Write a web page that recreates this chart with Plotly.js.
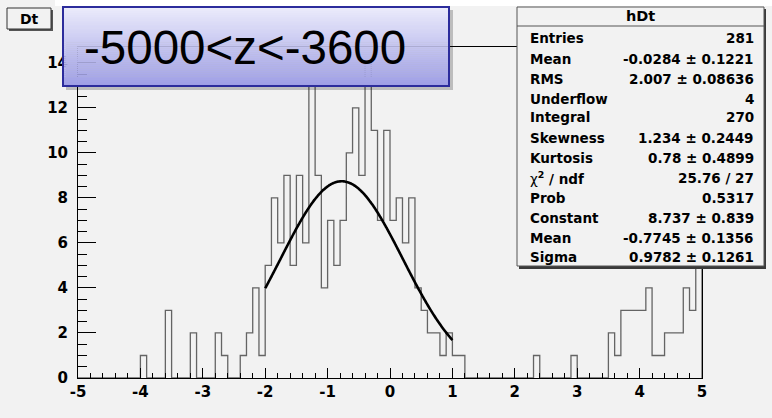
<!DOCTYPE html>
<html>
<head>
<meta charset="utf-8">
<script src="https://cdn.plot.ly/plotly-3.0.1.min.js"></script>
<style>html,body{margin:0;padding:0;background:#f2f2f2;}</style>
</head>
<body>
<div id="chart" style="width:772px;height:418px;"></div>
<script>
// hDt: Dt distribution for -5000 < z < -3600, 100 fixed-width bins on [-5, 5]
const histLow = -5;
const histHigh = 5;
const histCounts = [
  0, 0, 0, 0, 0, 0, 0, 0, 0, 0,     // -5.0 .. -4.1
  1, 0, 0, 0, 3, 0, 0, 0, 2, 0,     // -4.0 .. -3.1
  0, 0, 2, 1, 0, 0, 1, 2, 4, 1,     // -3.0 .. -2.1
  5, 8, 6, 9, 5, 9, 6, 13, 9, 4,    // -2.0 .. -1.1
  7, 5, 7, 10, 12, 9, 14, 11, 7, 11,// -1.0 .. -0.1
  7, 8, 6, 8, 4, 3, 2, 2, 1, 2,     //  0.0 ..  0.9
  1, 1, 0, 0, 0, 0, 0, 0, 0, 0,     //  1.0 ..  1.9
  0, 0, 0, 1, 0, 0, 0, 0, 0, 1,     //  2.0 ..  2.9
  0, 0, 0, 0, 0, 2, 1, 3, 3, 3,     //  3.0 ..  3.9
  3, 4, 1, 1, 2, 2, 2, 4, 3, 5      //  4.0 ..  4.9
];

// Gaussian fit: Constant, Mean, Sigma, fitted on [-2, 1]
const fitParams = [8.737, -0.7745, 0.9782];
const fitRange = [-2, 1];

const xTickVals = [-5, -4, -3, -2, -1, 0, 1, 2, 3, 4, 5];
const yTickVals = [0, 2, 4, 6, 8, 10, 12, 14];
const yMax = 14.7;

const statTitle = 'hDt';
const statLabels = ['Entries', 'Mean', 'RMS', 'Underflow', 'Integral', 'Skewness',
  'Kurtosis', '<span style="font-weight:normal">χ</span><sup>2</sup> / ndf', 'Prob',
  'Constant', 'Mean', 'Sigma'];
const statValues = ['281', '-0.0284 ± 0.1221', '2.007 ± 0.08636', '4', '270',
  '1.234 ± 0.2449', '0.78 ± 0.4899', '25.76 / 27', '0.5317', '8.737 ± 0.839',
  '-0.7745 ± 0.1356', '0.9782 ± 0.1261'];
const selectionText = '-5000<z<-3600';
const histName = 'Dt';

// ---- geometry helpers (pixel -> paper) ----
const W = 772, H = 418;
const M = {l: 78, r: 70, t: 47, b: 40};
const PW = W - M.l - M.r, PH = H - M.t - M.b;
const px = x => (x - M.l) / PW;
const py = y => (H - M.b - y) / PH;

// ---- histogram outline as a step line ----
const nBins = histCounts.length;
const bw = (histHigh - histLow) / nBins;
const hx = [histLow], hy = [0];
for (let i = 0; i < nBins; i++) {
  hx.push(Math.round((histLow + i * bw) * 1000) / 1000);
  hy.push(histCounts[i]);
}
hx.push(histHigh); hy.push(histCounts[nBins - 1]);
hx.push(histHigh); hy.push(0);

// ---- fitted gaussian ----
const fx = [], fy = [];
const nFit = 200;
for (let k = 0; k <= nFit; k++) {
  const x = fitRange[0] + (fitRange[1] - fitRange[0]) * k / nFit;
  const z = (x - fitParams[1]) / fitParams[2];
  fx.push(x);
  fy.push(fitParams[0] * Math.exp(-0.5 * z * z));
}

const traces = [
  {x: hx, y: hy, type: 'scatter', mode: 'lines',
   line: {shape: 'hv', color: '#646464', width: 1.3}, hoverinfo: 'skip'},
  {x: fx, y: fy, type: 'scatter', mode: 'lines',
   line: {color: '#000', width: 2.6, shape: 'spline'}, hoverinfo: 'skip'}
];

// ---- boxes ----
const shapes = [];
const annotations = [];
function rectPx(x0, y0, x1, y1, opts) {
  shapes.push(Object.assign({type: 'rect', xref: 'paper', yref: 'paper',
    x0: px(x0), x1: px(x1), y0: py(y1), y1: py(y0), layer: 'above'}, opts));
}
function linePx(x0, y0, x1, y1, color, width) {
  shapes.push({type: 'line', xref: 'paper', yref: 'paper',
    x0: px(x0), x1: px(x1), y0: py(y0), y1: py(y1), layer: 'above',
    line: {color: color, width: width}});
}

// white strip along the top of the canvas
rectPx(55, 0, 772, 6, {fillcolor: '#ffffff', line: {width: 0}});

// histogram name tag
rectPx(9, 10, 53, 31, {fillcolor: '#555', line: {width: 0}});
rectPx(7, 8, 51, 29, {fillcolor: '#f2f2f2', line: {color: '#333', width: 1}});
annotations.push({xref: 'paper', yref: 'paper', x: px(29), y: py(18.5),
  text: histName, showarrow: false, xanchor: 'center', yanchor: 'middle',
  font: {family: 'DejaVu Sans', size: 14, weight: 'bold', color: '#000'}});

// statistics box
const sb = {x0: 517, y0: 7, x1: 764, y1: 266};
rectPx(sb.x0 + 2, sb.y0 + 2, sb.x1 + 2, sb.y1 + 3, {fillcolor: '#3a3a3a', line: {width: 0}});
rectPx(sb.x0, sb.y0, sb.x1, sb.y1, {fillcolor: '#f2f2f2', line: {color: '#555', width: 1}});
linePx(sb.x0, 26, sb.x1, 26, '#555', 1);
annotations.push({xref: 'paper', yref: 'paper', x: px((sb.x0 + sb.x1) / 2), y: py(16),
  text: statTitle, showarrow: false, xanchor: 'center', yanchor: 'middle',
  font: {family: 'DejaVu Sans', size: 14.5, weight: 'bold', color: '#000'}});
const rowY = [38, 59, 79, 99, 117, 138, 158, 178, 198, 218, 238, 257];
statLabels.forEach((t, i) => {
  annotations.push({xref: 'paper', yref: 'paper', x: px(528), y: py(rowY[i]),
    text: t, showarrow: false, xanchor: 'left', yanchor: 'middle',
    font: {family: 'DejaVu Sans', size: 13.5, weight: 'bold', color: '#000'}});
  annotations.push({xref: 'paper', yref: 'paper', x: px(756), y: py(rowY[i]),
    text: statValues[i], showarrow: false, xanchor: 'right', yanchor: 'middle',
    font: {family: 'DejaVu Sans', size: 13.5, weight: 'bold', color: '#000'}});
});

// selection title box with vertical gradient
const tb = {x0: 63, y0: 7, x1: 449, y1: 86};
rectPx(tb.x0 + 3, tb.y0 + 3, tb.x1 + 4, tb.y1 + 4, {fillcolor: 'rgba(0,0,0,0.22)', line: {width: 0}});
const strips = 40;
const cTop = [236, 236, 251], cBot = [158, 158, 229];
for (let s = 0; s < strips; s++) {
  const f = (s + 0.5) / strips;
  const c = cTop.map((v, k) => Math.round(v + (cBot[k] - v) * f));
  const ya = tb.y0 + (tb.y1 - tb.y0) * s / strips;
  const yb = tb.y0 + (tb.y1 - tb.y0) * (s + 1) / strips + 0.3;
  rectPx(tb.x0, ya, tb.x1, yb, {fillcolor: `rgb(${c[0]},${c[1]},${c[2]})`, line: {width: 0}});
}
rectPx(tb.x0, tb.y0, tb.x1, tb.y1, {fillcolor: 'rgba(0,0,0,0)', line: {color: '#2c2c9c', width: 2}});
annotations.push({xref: 'paper', yref: 'paper', x: px(245), y: py(48),
  text: selectionText.replace(/</g, '&lt;'), showarrow: false, xanchor: 'center', yanchor: 'middle',
  font: {family: 'Liberation Sans', size: 47.5, color: '#000'}});

const tickFont = {family: 'DejaVu Sans', size: 15, weight: 'bold', color: '#000'};
const layout = {
  width: W, height: H,
  margin: M,
  paper_bgcolor: '#f2f2f2', plot_bgcolor: '#f2f2f2',
  showlegend: false,
  xaxis: {
    range: [histLow, histHigh], tickmode: 'array', tickvals: xTickVals,
    ticktext: xTickVals.map(String),
    ticks: 'inside', ticklen: 10, tickwidth: 1, tickcolor: '#000',
    minor: {dtick: 0.2, tick0: 0, ticks: 'inside', ticklen: 5, tickwidth: 1, tickcolor: '#000', showgrid: false},
    showline: true, linecolor: '#000', linewidth: 1, mirror: true,
    showgrid: false, zeroline: false, tickfont: tickFont, ticklabelstandoff: 0
  },
  yaxis: {
    range: [0, yMax], tickmode: 'array', tickvals: yTickVals,
    ticktext: yTickVals.map(String),
    ticks: 'inside', ticklen: 18, tickwidth: 1, tickcolor: '#000',
    minor: {dtick: 0.5, tick0: 0, ticks: 'inside', ticklen: 9, tickwidth: 1, tickcolor: '#000', showgrid: false},
    showline: true, linecolor: '#000', linewidth: 1, mirror: true,
    showgrid: false, zeroline: false, tickfont: tickFont, ticklabelstandoff: 6
  },
  shapes: shapes,
  annotations: annotations
};

Plotly.newPlot('chart', traces, layout, {staticPlot: true, displayModeBar: false});
</script>
</body>
</html>
